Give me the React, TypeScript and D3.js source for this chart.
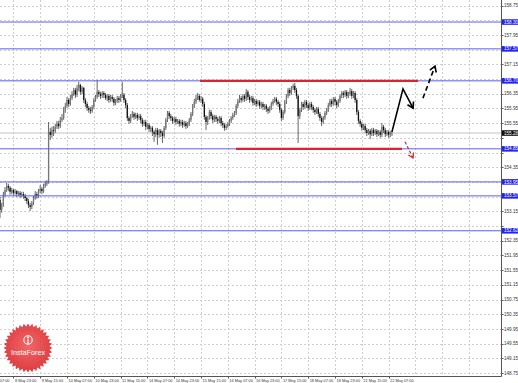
import React from "react";
import * as d3 from "d3";

const W = 518;
const H = 383;
const plotRight = 501;
const plotBottom = 376;

// price axis tick labels
const priceTickLabels = [
  "148.75","149.15","149.55","149.95","150.35","150.75","151.15","151.55","151.95","152.35",
  "152.75","153.15","153.55","153.95","154.35","154.75","155.15","155.55","155.95","156.35",
  "156.75","157.15","157.55","157.95","158.35","158.75",
];

// time axis labels (H1 bars, one label every 16 bars starting at bar 0)
const timeLabels = [
  "8 May 07:00","8 May 23:00","9 May 15:00","10 May 07:00","10 May 23:00","11 May 15:00",
  "14 May 07:00","14 May 23:00","15 May 15:00","16 May 07:00","16 May 23:00","17 May 15:00",
  "18 May 07:00","18 May 23:00","21 May 15:00","22 May 07:00",
];
const labelEvery = 16;
const extraGridBars = [256, 272, 288];

// horizontal levels (blue)
const levels = [158.30, 157.57, 156.70, 154.85, 153.95, 153.57, 152.62];
const currentPrice = 155.28;

// candles: first visible bar index, first open, closes/highs/lows
const startBar = 8;
const firstOpen = 153.46;
const closes = [
  153.19,153.32,153.60,153.73,153.84,153.79,153.68,153.73,153.65,153.70,
  153.62,153.65,153.60,153.62,153.57,153.51,153.43,153.32,153.27,153.38,
  153.51,153.62,153.57,153.70,153.76,153.70,153.84,153.90,153.95,155.31,
  155.23,155.36,155.34,155.45,155.53,155.47,155.64,155.69,155.91,156.02,
  156.18,156.07,156.23,156.34,156.45,156.32,156.51,156.59,156.40,156.51,
  156.18,156.07,155.96,155.91,155.88,155.99,156.18,156.26,156.40,156.34,
  156.29,156.37,156.32,156.23,156.29,156.18,156.26,156.21,156.10,156.15,
  156.23,156.18,156.29,156.32,156.18,156.04,155.69,155.61,155.74,155.80,
  155.72,155.77,155.69,155.74,155.64,155.53,155.58,155.45,155.50,155.39,
  155.42,155.31,155.25,155.36,155.23,155.34,155.28,155.20,155.42,155.64,
  155.83,155.74,155.69,155.61,155.66,155.58,155.61,155.53,155.58,155.50,
  155.55,155.47,155.53,155.64,155.80,156.02,156.13,156.23,156.29,156.18,
  156.21,156.07,155.72,155.58,155.69,155.85,155.74,155.64,155.72,155.66,
  155.61,155.69,155.55,155.50,155.42,155.47,155.53,155.61,155.69,155.77,
  155.83,156.02,156.15,156.23,156.18,156.29,156.21,156.40,156.26,156.18,
  156.23,156.10,156.15,156.07,156.13,156.02,156.07,155.99,156.02,155.94,
  155.88,155.96,156.07,156.15,156.21,156.13,156.07,155.91,155.69,155.85,
  156.13,156.29,156.45,156.37,156.51,156.56,156.45,156.29,155.74,155.91,
  156.07,155.99,156.13,156.04,155.96,156.07,155.99,155.91,155.85,155.94,
  155.80,155.69,155.58,155.69,155.83,155.91,156.04,156.15,156.07,156.21,
  156.13,156.04,156.15,156.29,156.37,156.32,156.40,156.29,156.34,156.42,
  156.29,156.37,156.18,155.85,155.61,155.53,155.42,155.47,155.36,155.28,
  155.34,155.25,155.36,155.28,155.34,155.25,155.31,155.23,155.45,155.36,
  155.25,155.31,155.23,155.28,155.28,
];
const highs = [
  153.54,153.38,153.68,153.81,153.92,153.90,153.84,153.79,153.76,153.76,
  153.73,153.70,153.70,153.68,153.68,153.62,153.54,153.49,153.38,153.43,
  153.57,153.70,153.68,153.76,153.87,153.81,153.90,153.98,154.00,155.58,
  155.42,155.45,155.47,155.53,155.61,155.61,155.72,155.80,155.99,156.10,
  156.26,156.23,156.32,156.42,156.51,156.51,156.59,156.67,156.62,156.56,
  156.53,156.23,156.13,156.02,155.99,156.04,156.23,156.32,156.72,156.45,
  156.40,156.42,156.42,156.37,156.34,156.34,156.32,156.32,156.26,156.21,
  156.29,156.29,156.34,156.67,156.37,156.23,156.10,155.74,155.80,155.88,
  155.85,155.83,155.83,155.80,155.80,155.69,155.64,155.64,155.55,155.55,
  155.47,155.47,155.36,155.42,155.42,155.39,155.39,155.34,155.47,155.69,
  155.88,155.88,155.80,155.74,155.72,155.72,155.66,155.66,155.64,155.64,
  155.61,155.61,155.58,155.69,155.85,156.07,156.21,156.32,156.37,156.34,
  156.29,156.26,156.13,155.77,155.74,155.91,155.91,155.80,155.77,155.77,
  155.72,155.74,155.74,155.61,155.55,155.53,155.58,155.66,155.74,155.83,
  155.88,156.07,156.21,156.32,156.29,156.34,156.34,156.48,156.45,156.32,
  156.29,156.29,156.21,156.21,156.18,156.18,156.13,156.13,156.07,156.07,
  155.99,156.02,156.13,156.21,156.26,156.26,156.18,156.13,155.96,155.91,
  156.18,156.34,156.51,156.51,156.56,156.62,156.64,156.51,156.34,155.96,
  156.13,156.13,156.18,156.18,156.10,156.13,156.13,156.04,155.96,155.99,
  155.99,155.85,155.74,155.74,155.88,155.96,156.10,156.21,156.21,156.26,
  156.26,156.18,156.21,156.34,156.42,156.42,156.45,156.45,156.40,156.51,
  156.48,156.42,156.42,156.23,155.91,155.66,155.58,155.53,155.53,155.42,
  155.39,155.39,155.42,155.42,155.39,155.39,155.36,155.36,155.55,155.50,
  155.42,155.36,155.36,155.34,155.34,
];
const lows = [
  152.97,153.11,153.27,153.54,153.68,153.70,153.60,153.62,153.57,153.60,
  153.54,153.57,153.51,153.54,153.49,153.43,153.35,153.24,153.16,153.21,
  153.32,153.46,153.49,153.51,153.65,153.62,153.65,153.79,153.84,153.90,
  155.09,155.15,155.20,155.28,155.39,155.39,155.42,155.58,155.64,155.83,
  155.96,155.99,156.02,156.18,156.29,156.23,156.26,156.42,156.32,156.34,
  156.10,155.99,155.88,155.83,155.80,155.83,155.94,156.13,156.21,156.26,
  156.21,156.23,156.23,156.18,156.15,156.10,156.13,156.13,156.02,156.04,
  156.10,156.10,156.13,156.23,156.10,155.96,155.61,155.53,155.55,155.69,
  155.64,155.66,155.61,155.64,155.55,155.45,155.47,155.36,155.39,155.31,
  155.31,155.20,155.04,155.17,154.96,155.15,155.17,155.01,155.15,155.36,
  155.58,155.66,155.61,155.53,155.55,155.50,155.53,155.45,155.47,155.42,
  155.45,155.39,155.42,155.47,155.58,155.74,155.96,156.07,156.18,156.13,
  156.10,155.99,155.64,155.36,155.50,155.64,155.66,155.55,155.58,155.58,
  155.53,155.55,155.47,155.42,155.34,155.36,155.42,155.47,155.55,155.64,
  155.72,155.77,155.96,156.10,156.10,156.13,156.13,156.15,156.18,156.10,
  156.13,156.02,156.04,155.99,156.02,155.94,155.96,155.91,155.91,155.85,
  155.80,155.83,155.91,156.02,156.10,156.04,155.99,155.83,155.61,155.64,
  155.80,156.07,156.23,156.29,156.32,156.45,156.37,156.21,155.01,155.66,
  155.85,155.91,155.94,155.96,155.88,155.91,155.91,155.83,155.77,155.80,
  155.72,155.61,155.47,155.53,155.64,155.77,155.85,155.99,155.99,156.02,
  156.04,155.96,155.99,156.10,156.23,156.23,156.26,156.21,156.23,156.29,
  156.21,156.23,156.10,155.77,155.53,155.45,155.34,155.36,155.28,155.20,
  155.23,155.12,155.20,155.20,155.23,155.17,155.20,155.15,155.17,155.28,
  155.17,155.20,155.15,155.17,155.20,
];

// drawn objects: [bar index, price]
const redTop: [number, number][] = [[127.4, 156.70], [257.6, 156.70]];
const redBottom: [number, number][] = [[148.9, 154.85], [248.0, 154.85]];
const blackSolid: [number, number][] = [[242.0, 155.31], [248.6, 156.48], [254.6, 155.96]];
const blackDashed: [number, number][] = [[260.5, 156.23], [267.7, 157.10]];
const redDashed: [number, number][] = [[249.8, 155.04], [254.6, 154.60]];

const x = d3.scaleLinear().domain([0, 240]).range([-13.4, 388.6]);
const y = d3.scaleLinear().domain([148.75, 158.75]).range([373, 5.5]);

function arrowHead(pts: [number, number][], len = 6.5, ang = 0.55) {
  const a = pts[pts.length - 2];
  const b = pts[pts.length - 1];
  const x1 = x(a[0]), y1 = y(a[1]), x2 = x(b[0]), y2 = y(b[1]);
  const th = Math.atan2(y1 - y2, x1 - x2);
  const p1 = [x2 + len * Math.cos(th + ang), y2 + len * Math.sin(th + ang)];
  const p2 = [x2 + len * Math.cos(th - ang), y2 + len * Math.sin(th - ang)];
  return `M${p1[0]},${p1[1]}L${x2},${y2}L${p2[0]},${p2[1]}`;
}

const line = d3.line<[number, number]>().x((d) => x(d[0])).y((d) => y(d[1]));
const py = (v: number) => Math.round(y(v)) + 0.5;

export default function App() {
  const font = "'Liberation Sans', Arial, sans-serif";
  const gridBars = [...timeLabels.map((_, i) => i * labelEvery), ...extraGridBars];
  const boxYs = [...levels, currentPrice].map((l) => y(l));
  const visibleTicks = priceTickLabels.filter((t) => boxYs.every((b) => Math.abs(b - y(+t)) > 5.2));

  // starburst logo
  const cx = 28, cy = 348;
  const spikes = 36;
  const star = d3.range(spikes * 2).map((k) => {
    const a = (k / (spikes * 2)) * Math.PI * 2;
    const r = k % 2 === 0 ? 24.5 : 21.5;
    return [cx + r * Math.cos(a), cy + r * Math.sin(a)];
  });
  const starPath = "M" + star.map((p) => p.join(",")).join("L") + "Z";

  return (
    <div style={{ position: "fixed", left: 0, top: 0, width: W, height: H, background: "#fff" }}>
      <svg width={W} height={H} style={{ display: "block" }}>
        <defs>
          <clipPath id="plot">
            <rect x={0} y={0} width={plotRight} height={plotBottom} />
          </clipPath>
          <radialGradient id="lg" cx="50%" cy="45%" r="55%">
            <stop offset="0%" stopColor="#f05a5a" />
            <stop offset="100%" stopColor="#d92b2f" />
          </radialGradient>
        </defs>
        <rect x={0} y={0} width={W} height={H} fill="#fff" />
        <g clipPath="url(#plot)">
          {/* grid */}
          {priceTickLabels.map((t) => (
            <line key={"h" + t} x1={0} x2={plotRight} y1={py(+t)} y2={py(+t)}
              stroke="#cfcfcf" strokeWidth={1} strokeDasharray="2,2" shapeRendering="crispEdges" />
          ))}
          {gridBars.map((b) => (
            <line key={"v" + b} x1={Math.round(x(b)) + 0.5} x2={Math.round(x(b)) + 0.5} y1={0} y2={plotBottom}
              stroke="#cfcfcf" strokeWidth={1} strokeDasharray="2,2" shapeRendering="crispEdges" />
          ))}
          {/* bid line */}
          <line x1={0} x2={plotRight} y1={y(currentPrice)} y2={y(currentPrice)} stroke="#c4c4c4" strokeWidth={1.1} />
          {/* candles */}
          {closes.map((c, j) => {
            const o = j === 0 ? firstOpen : closes[j - 1];
            const xi = x(startBar + j);
            const bear = c < o;
            const top = y(Math.max(o, c));
            const bot = y(Math.min(o, c));
            return (
              <g key={"c" + j}>
                <line x1={xi} x2={xi} y1={y(highs[j])} y2={y(lows[j])} stroke="#555" strokeWidth={0.9} />
                <rect x={xi - 0.65} y={top} width={1.3} height={Math.max(0.8, bot - top)}
                  fill={bear ? "#111" : "#777"} />
              </g>
            );
          })}
          {/* levels */}
          {levels.map((l) => (
            <line key={"l" + l} x1={0} x2={plotRight} y1={y(l)} y2={y(l)} stroke="#5c5cff" strokeWidth={1} />
          ))}
          {/* red range lines */}
          <path d={line(redTop) || ""} stroke="#e0222c" strokeWidth={2.4} fill="none" />
          <path d={line(redBottom) || ""} stroke="#e0222c" strokeWidth={2.4} fill="none" />
          {/* arrows */}
          <path d={line(blackSolid) || ""} stroke="#000" strokeWidth={1.6} fill="none" strokeLinejoin="miter" />
          <path d={arrowHead(blackSolid)} stroke="#000" strokeWidth={1.6} fill="none" />
          <path d={line(blackDashed) || ""} stroke="#000" strokeWidth={1.6} fill="none" strokeDasharray="5,3" />
          <path d={arrowHead(blackDashed)} stroke="#000" strokeWidth={1.6} fill="none" />
          <path d={line(redDashed) || ""} stroke="#e0222c" strokeWidth={1.2} fill="none" strokeDasharray="3,2" />
          <path d={arrowHead(redDashed, 5.5)} stroke="#e0222c" strokeWidth={1.2} fill="none" />
        </g>
        {/* axes */}
        <line x1={plotRight + 0.5} x2={plotRight + 0.5} y1={0} y2={plotBottom + 0.5} stroke="#555" strokeWidth={1} />
        <line x1={0} x2={plotRight + 0.5} y1={plotBottom + 0.5} y2={plotBottom + 0.5} stroke="#555" strokeWidth={1} />
        {priceTickLabels.map((t) => (
          <line key={"ptm" + t} x1={plotRight} x2={plotRight + 2.5} y1={py(+t)} y2={py(+t)} stroke="#555" />
        ))}
        {visibleTicks.map((t) => (
          <text key={"pt" + t} x={504} y={y(+t)} dy="0.35em" fontSize={4.6} fontFamily={font} fill="#333">{t}</text>
        ))}
        {timeLabels.map((t, i) => (
          <g key={"tt" + t}>
            <line x1={Math.round(x(i * labelEvery)) + 0.5} x2={Math.round(x(i * labelEvery)) + 0.5}
              y1={plotBottom} y2={plotBottom + 2.5} stroke="#555" />
            <text x={x(i * labelEvery) + 1.5} y={381.5} fontSize={3.9} fontFamily={font} fill="#333">{t}</text>
          </g>
        ))}
        {/* level boxes */}
        {levels.map((l) => (
          <g key={"lb" + l}>
            <rect x={plotRight + 1} y={y(l) - 2.8} width={W - plotRight - 1} height={5.6} fill="#2424f0" />
            <text x={504} y={y(l)} dy="0.35em" fontSize={4.6} fontFamily={font} fill="#fff">{l.toFixed(2)}</text>
          </g>
        ))}
        <rect x={plotRight + 1} y={y(currentPrice) - 2.8} width={W - plotRight - 1} height={5.6} fill="#111" />
        <text x={504} y={y(currentPrice)} dy="0.35em" fontSize={4.6} fontFamily={font} fill="#fff">{currentPrice.toFixed(2)}</text>
        {/* logo */}
        <g>
          <path d={starPath} fill="url(#lg)" opacity={0.92} />
          <circle cx={cx} cy={cy - 8} r={4.2} fill="none" stroke="#fff" strokeWidth={1.1} />
          <line x1={cx} x2={cx} y1={cy - 9} y2={cy - 3.5} stroke="#fff" strokeWidth={1.2} />
          <circle cx={cx} cy={cy - 10.5} r={1} fill="#fff" />
          <text x={cx} y={cy + 7} textAnchor="middle" fontSize={7.2} fontFamily={font} fill="#fff">InstaForex</text>
        </g>
      </svg>
    </div>
  );
}
